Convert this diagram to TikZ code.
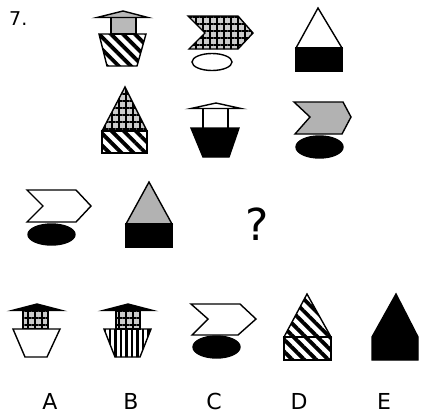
\documentclass[tikz,border=0pt]{standalone}
\usepackage{fontspec}
\setmainfont{DejaVu Sans}
\usetikzlibrary{patterns.meta}
\tikzset{
  ol/.style={line width=1.4pt, line join=miter},
  stripes/.style={pattern={Lines[angle=-45,distance=8.5pt,line width=3.8pt]}},
  vstripes/.style={pattern={Lines[angle=90,distance=5.5pt,line width=2.4pt]}},
  plaidfill/.style={fill=gray!40, postaction={pattern={Hatch[angle=0,distance=7pt,line width=2.6pt]}}},
  dotgray/.style={fill=gray!60},
  lbl/.style={font=\fontsize{22}{24}\selectfont, anchor=base, inner sep=0pt}
}
\begin{document}
\begin{tikzpicture}[x=1pt,y=1pt]
\fill[white] (0,0) rectangle (422,-416);
\useasboundingbox (0,0) rectangle (422,-416);

\node[anchor=base west, inner sep=0pt, font=\fontsize{19}{21}\selectfont] (num) at (9,-25) {7.};

% Shape 1
\draw[ol, fill=gray!55] (111,-17) rectangle (136,-34);
\draw[ol, fill=gray!55] (97,-17.5) -- (123,-11) -- (148,-17.5) -- cycle;
\draw[ol, stripes] (99,-34) -- (146,-34) -- (137,-66) -- (107,-66) -- cycle;

% Shape 2
\draw[ol, fill=white] (212,-62) ellipse [x radius=20, y radius=8.5];
\draw[ol, plaidfill] (188,-16) -- (238,-16) -- (253,-33) -- (238,-49) -- (189,-49) -- (205,-33) -- cycle;

% Shape 3
\draw[ol, fill=white] (296,-48) -- (318,-8) -- (342,-48) -- cycle;
\draw[ol, fill=black] (296,-48) rectangle (342,-71);

% Shape 4
\draw[ol, plaidfill] (102,-131) -- (125,-87) -- (147,-131) -- cycle;
\draw[ol, stripes] (102,-131) rectangle (147,-153);

% Shape 5
\draw[ol] (203,-108) -- (203,-128);
\draw[ol] (228,-108) -- (228,-128);
\draw[ol, fill=white] (191,-108.5) -- (216,-103) -- (241,-108.5) -- cycle;
\draw[ol, fill=black] (191,-128) -- (239,-128) -- (229,-157) -- (203,-157) -- cycle;

% Shape 6
\draw[ol, fill=black] (319.5,-147) ellipse [x radius=23.5, y radius=11];
\draw[ol, dotgray] (294,-102) -- (343,-102) -- (351,-117) -- (342,-134) -- (295,-134) -- (310,-117) -- cycle;

% Shape 7
\draw[ol, fill=black] (51.5,-234.5) ellipse [x radius=23.5, y radius=10.5];
\draw[ol, fill=white] (27,-190) -- (76,-190) -- (91,-206) -- (76,-222) -- (27,-222) -- (43,-206) -- cycle;

% Shape 8
\draw[ol, dotgray] (126,-224) -- (149,-182) -- (172,-224) -- cycle;
\draw[ol, fill=black] (126,-224) rectangle (172,-247);

% Question mark
\node[anchor=base, inner sep=0pt, font=\fontsize{44}{46}\selectfont] (q) at (257,-240) {?};

% A
\draw[ol, plaidfill] (23,-310) rectangle (48,-329);
\draw[ol, fill=black] (12,-310.5) -- (37,-304) -- (62,-310.5) -- cycle;
\draw[ol, fill=white] (13,-329) -- (60,-329) -- (47,-357) -- (25,-357) -- cycle;

% B
\draw[ol, plaidfill] (116,-310) rectangle (140,-329);
\draw[ol, fill=black] (103,-310.5) -- (128,-304) -- (153,-310.5) -- cycle;
\draw[ol, vstripes] (104,-329) -- (151,-329) -- (140,-357) -- (115,-357) -- cycle;

% C
\draw[ol, fill=black] (216.5,-347) ellipse [x radius=23.5, y radius=11];
\draw[ol, fill=white] (191,-304) -- (240,-304) -- (256,-319) -- (238,-335) -- (192,-335) -- (208,-319) -- cycle;

% D
\draw[ol, stripes] (284,-337) -- (307,-294) -- (331,-337) -- cycle;
\draw[ol, stripes] (284,-337) rectangle (331,-360);

% E
\draw[ol, fill=black] (372,-360) -- (372,-337) -- (396,-294) -- (418,-337) -- (418,-360) -- cycle;

% Labels
\node[lbl] (la) at (50,-409) {A};
\node[lbl] (lb) at (131,-409) {B};
\node[lbl] (lc) at (214,-409) {C};
\node[lbl] (ld) at (299,-409) {D};
\node[lbl] (le) at (384,-409) {E};
\end{tikzpicture}
\end{document}
